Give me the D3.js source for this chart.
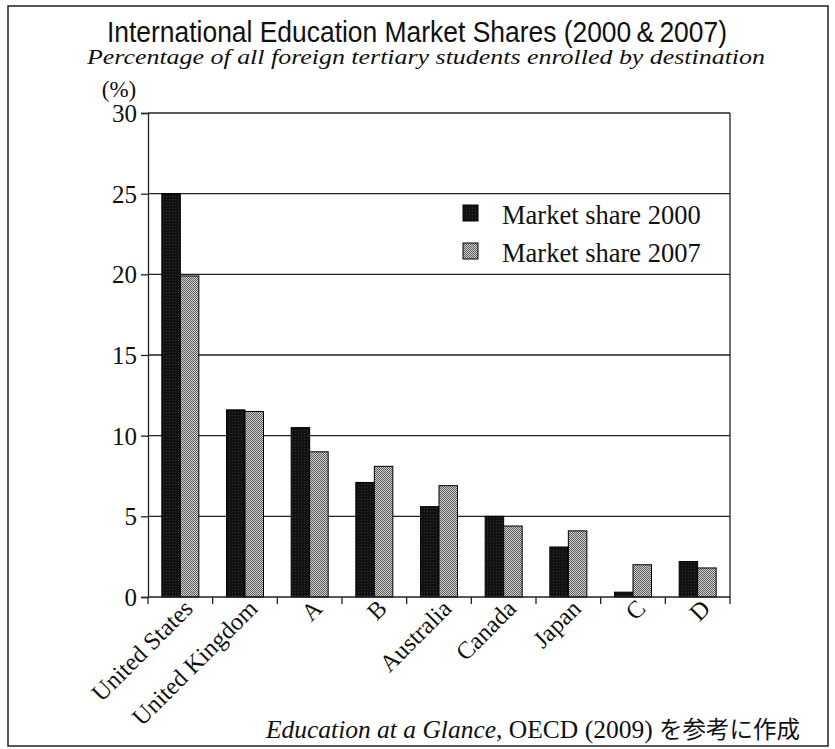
<!DOCTYPE html>
<html><head><meta charset="utf-8">
<script src="https://cdn.jsdelivr.net/npm/d3@7"></script>
<style>body{margin:0;background:#fff}svg{display:block}</style>
</head><body>
<svg id="c" width="835" height="749"></svg>
<script>
const categories = ["United States","United Kingdom","A","B","Australia","Canada","Japan","C","D"];
const share2000 = [25.0, 11.6, 10.5, 7.1, 5.6, 5.0, 3.1, 0.3, 2.2];
const share2007 = [19.9, 11.5, 9.0, 8.1, 6.9, 4.4, 4.1, 2.0, 1.8];
const seriesNames = ["Market share 2000","Market share 2007"];
const yTicks = [0,5,10,15,20,25,30];

const svg = d3.select("#c");
const serif = "'Liberation Serif', 'Times New Roman', serif";
const m = {left:148, right:730, top:113, bottom:597};

const defs = svg.append("defs");
const p1 = defs.append("pattern").attr("id","pGray").attr("width",2).attr("height",2)
  .attr("patternUnits","userSpaceOnUse");
p1.append("rect").attr("width",2).attr("height",2).attr("fill","#d2d2d2");
p1.append("rect").attr("width",1).attr("height",1).attr("fill","#5a5a5a");
p1.append("rect").attr("x",1).attr("y",1).attr("width",1).attr("height",1).attr("fill","#5a5a5a");
const p0 = defs.append("pattern").attr("id","pBlack").attr("width",3).attr("height",3)
  .attr("patternUnits","userSpaceOnUse");
p0.append("rect").attr("width",3).attr("height",3).attr("fill","#111");
p0.append("rect").attr("x",1).attr("y",1).attr("width",1).attr("height",1).attr("fill","#333");

// outer border
svg.append("rect").attr("x",8).attr("y",6).attr("width",820).attr("height",740)
  .attr("fill","none").attr("stroke","#222").attr("stroke-width",1.5);

// titles
svg.append("text").attr("x",417).attr("y",42).attr("text-anchor","middle")
  .attr("font-family","'Liberation Sans', Arial, sans-serif").attr("font-size",29)
  .attr("textLength",620).attr("lengthAdjust","spacingAndGlyphs").attr("fill","#111")
  .text("International Education Market Shares (2000\u2009&\u20092007)");
svg.append("text").attr("x",426).attr("y",64).attr("text-anchor","middle")
  .attr("font-family",serif).attr("font-style","italic").attr("font-size",20)
  .attr("textLength",678).attr("lengthAdjust","spacingAndGlyphs").attr("fill","#111")
  .text("Percentage of all foreign tertiary students enrolled by destination");

const x = d3.scaleBand().domain(categories).range([m.left, m.right]).paddingInner(0).paddingOuter(0);
const y = d3.scaleLinear().domain([0,30]).range([m.bottom, m.top]);
const barW = 18.5;

// gridlines
svg.append("g").selectAll("line").data(yTicks.filter(d=>d>0)).join("line")
  .attr("x1",m.left).attr("x2",m.right).attr("y1",d=>y(d)).attr("y2",d=>y(d))
  .attr("stroke","#222").attr("stroke-width",1.3);
// right border
svg.append("line").attr("x1",m.right).attr("x2",m.right).attr("y1",m.top).attr("y2",m.bottom)
  .attr("stroke","#222").attr("stroke-width",1.3);

// bars
const g = svg.append("g");
g.selectAll("rect.b0").data(categories).join("rect").attr("class","b0")
  .attr("x",(d)=>x(d)+x.bandwidth()/2-barW).attr("width",barW)
  .attr("y",(d,i)=>y(share2000[i])).attr("height",(d,i)=>y(0)-y(share2000[i]))
  .attr("fill","url(#pBlack)").attr("stroke","#000").attr("stroke-width",1);
g.selectAll("rect.b1").data(categories).join("rect").attr("class","b1")
  .attr("x",(d)=>x(d)+x.bandwidth()/2).attr("width",barW)
  .attr("y",(d,i)=>y(share2007[i])).attr("height",(d,i)=>y(0)-y(share2007[i]))
  .attr("fill","url(#pGray)").attr("stroke","#000").attr("stroke-width",1);

// y axis
const yAxis = d3.axisLeft(y).tickValues(yTicks).tickSize(7).tickPadding(4);
const ya = svg.append("g").attr("transform",`translate(${m.left},0)`).call(yAxis);
ya.select(".domain").attr("stroke","#222").attr("stroke-width",1.3);
ya.selectAll(".tick line").attr("stroke","#222").attr("stroke-width",1.3);
ya.selectAll(".tick text").attr("font-family",serif).attr("font-size",25).attr("fill","#111")
  .attr("dy","0.34em");

// x axis with ticks at band boundaries
const xa = svg.append("g");
xa.append("line").attr("x1",m.left).attr("x2",m.right).attr("y1",m.bottom).attr("y2",m.bottom)
  .attr("stroke","#222").attr("stroke-width",1.3);
const bounds = categories.map(d=>x(d)).concat([m.right]);
xa.selectAll("line.t").data(bounds).join("line").attr("class","t")
  .attr("x1",d=>d).attr("x2",d=>d).attr("y1",m.bottom).attr("y2",m.bottom+7)
  .attr("stroke","#222").attr("stroke-width",1.3);
xa.selectAll("text").data(categories).join("text")
  .attr("transform",d=>`translate(${x(d)+x.bandwidth()/2+14},${m.bottom+13}) rotate(-45)`)
  .attr("text-anchor","end").attr("font-family",serif).attr("font-size",24.5).attr("fill","#111")
  .text(d=>d);

// (%)
svg.append("text").attr("x",119).attr("y",97).attr("text-anchor","middle")
  .attr("font-family",serif).attr("font-size",23).attr("fill","#111").text("(%)");

// legend
const colors = ["url(#pBlack)","url(#pGray)"];
const lg = svg.append("g");
seriesNames.forEach((s,i)=>{
  lg.append("rect").attr("x",463).attr("y",205+i*38).attr("width",15).attr("height",16)
    .attr("fill",colors[i]).attr("stroke","#000").attr("stroke-width",1);
  lg.append("text").attr("x",502).attr("y",224+i*38).attr("font-family",serif)
    .attr("font-size",26.5).attr("fill","#111").text(s);
});

// source
const src = svg.append("text").attr("x",800).attr("y",738).attr("text-anchor","end")
  .attr("font-family",serif).attr("font-size",25.5).attr("fill","#111");
src.append("tspan").attr("font-style","italic").text("Education at a Glance");
src.append("tspan").text(", OECD (2009) ");
src.append("tspan").attr("font-family","'Noto Sans CJK JP', sans-serif").attr("font-size",23.5).text("を参考に作成");
</script>
</body></html>
